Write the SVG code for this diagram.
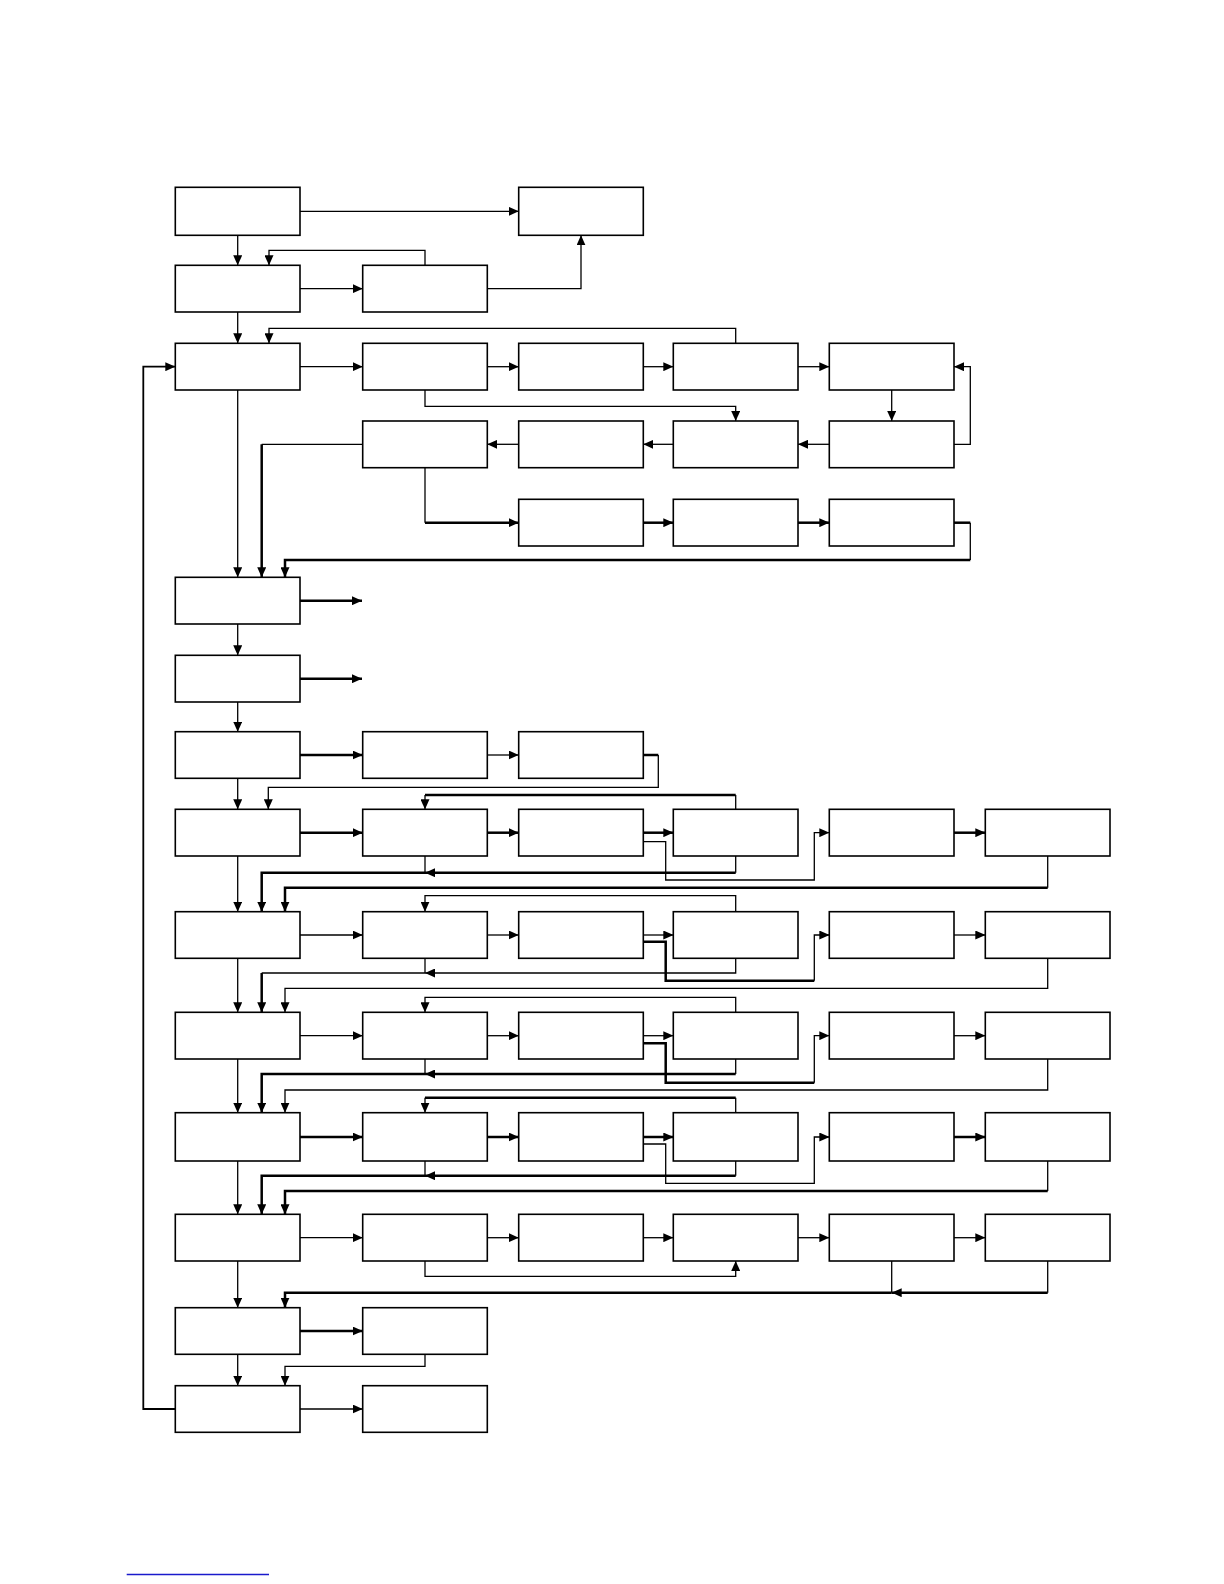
<svg xmlns="http://www.w3.org/2000/svg" width="1224" height="1584" viewBox="0 0 1224 1584">
<style>
.box{fill:#fff;stroke:#000;stroke-width:1.6}
.t{fill:none;stroke:#000;stroke-width:1.3}
.k{fill:none;stroke:#000;stroke-width:2.5}
.m{fill:none;stroke:#000;stroke-width:1.8}
.a{marker-end:url(#ah)}
</style>
<defs>
<marker id="ah" markerUnits="userSpaceOnUse" markerWidth="10" markerHeight="9" viewBox="0 0 10 9" refX="10" refY="4.5" orient="auto"><path d="M0,0 L10,4.5 L0,9 z" fill="#000"/></marker>
</defs>
<rect width="1224" height="1584" fill="#fff"/>
<g id="connectors">
<path class="t a" d="M300,211.3 H518.7"/>
<path class="t a" d="M237.7,235.3 V265.3"/>
<path class="t a" d="M425,265.3 V250.3 H269 V265.3"/>
<path class="t a" d="M300,288.7 H362.7"/>
<path class="t a" d="M487.3,288.7 H581 V235.3"/>
<path class="t a" d="M237.7,312 V343.3"/>
<path class="t a" d="M735.7,343.3 V328.3 H269 V343.3"/>
<path class="t a" d="M300,366.7 H362.7"/>
<path class="t a" d="M487.3,366.7 H518.7"/>
<path class="t a" d="M643.3,366.7 H673.3"/>
<path class="t a" d="M798,366.7 H829.3"/>
<path class="t a" d="M425,390 V406.3 H735.7 V421"/>
<path class="t a" d="M891.7,390 V421"/>
<path class="t a" d="M954,444.3 H970.3 V366.7 H954"/>
<path class="t a" d="M829.3,444.3 H798"/>
<path class="t a" d="M673.3,444.3 H643.3"/>
<path class="t a" d="M518.7,444.3 H487.3"/>
<path class="t" d="M362.7,444.3 H261.7"/>
<path class="k a" d="M261.7,444.3 V577.3"/>
<path class="t" d="M425,467.7 V522.7"/>
<path class="k a" d="M425,522.7 H518.7"/>
<path class="k a" d="M643.3,522.7 H673.3"/>
<path class="k a" d="M798,522.7 H829.3"/>
<path class="k" d="M954,522.7 H970.3"/>
<path class="t" d="M970.3,522.7 V560"/>
<path class="k a" d="M970.3,560 H285 V577.3"/>
<path class="t a" d="M237.7,390 V577.3"/>
<path class="k a" d="M300,600.7 H362"/>
<path class="t a" d="M237.7,624 V655.3"/>
<path class="k a" d="M300,678.7 H362"/>
<path class="t a" d="M237.7,702 V731.7"/>
<path class="k a" d="M300,755 H362.7"/>
<path class="t a" d="M487.3,755 H518.7"/>
<path class="k" d="M643.3,755 H658.3"/>
<path class="t a" d="M658.3,755 V787.3 H268.3 V809.3"/>
<path class="t a" d="M237.7,778.3 V809.3"/>
<!-- row 9 -->
<path class="k a" d="M300,832.7 H362.7"/>
<path class="k a" d="M487.3,832.7 H518.7"/>
<path class="k a" d="M643.3,832.7 H673.3"/>
<path class="t a" d="M643.3,841.7 H665.7 V880 H814.3 V832.7 H829.3"/>
<path class="k a" d="M954,832.7 H985.3"/>
<path class="t" d="M735.7,809.3 V795"/>
<path class="k" d="M735.7,795 H425"/>
<path class="t a" d="M425,795 V809.3"/>
<path class="t" d="M425,856 V872.7"/>
<path class="t" d="M735.7,856 V872.7"/>
<path class="k a" d="M735.7,872.7 H425"/>
<path class="k a" d="M425,872.7 H261.7 V911.7"/>
<path class="t" d="M1047.7,856 V887.7"/>
<path class="k a" d="M1047.7,887.7 H285 V911.7"/>
<path class="t a" d="M237.7,856 V911.7"/>
<!-- row 10 -->
<path class="t a" d="M300,935 H362.7"/>
<path class="t a" d="M487.3,935 H518.7"/>
<path class="t a" d="M643.3,935 H673.3"/>
<path class="k" d="M643.3,941.7 H665.7 V980.7 H814.3"/>
<path class="t a" d="M814.3,980.7 V935 H829.3"/>
<path class="t a" d="M954,935 H985.3"/>
<path class="t a" d="M735.7,911.7 V895.7 H425 V911.7"/>
<path class="t" d="M425,958.3 V973"/>
<path class="t a" d="M735.7,958.3 V973 H425"/>
<path class="t" d="M425,973 H261.7"/>
<path class="k a" d="M261.7,973 V1012.3"/>
<path class="t a" d="M1047.7,958.3 V988.3 H285 V1012.3"/>
<path class="t a" d="M237.7,958.3 V1012.3"/>
<!-- row 11 -->
<path class="t a" d="M300,1035.7 H362.7"/>
<path class="t a" d="M487.3,1035.7 H518.7"/>
<path class="t a" d="M643.3,1035.7 H673.3"/>
<path class="k" d="M643.3,1043.3 H665.7 V1082.7 H814.3"/>
<path class="t a" d="M814.3,1082.7 V1035.7 H829.3"/>
<path class="t a" d="M954,1035.7 H985.3"/>
<path class="t a" d="M735.7,1012.3 V997.3 H425 V1012.3"/>
<path class="t" d="M425,1059 V1074"/>
<path class="t" d="M735.7,1059 V1074"/>
<path class="k a" d="M735.7,1074 H425"/>
<path class="k a" d="M425,1074 H261.7 V1112.7"/>
<path class="t a" d="M1047.7,1059 V1090 H285 V1112.7"/>
<path class="t a" d="M237.7,1059 V1112.7"/>
<!-- row 12 -->
<path class="k a" d="M300,1137 H362.7"/>
<path class="k a" d="M487.3,1137 H518.7"/>
<path class="k a" d="M643.3,1137 H673.3"/>
<path class="t a" d="M643.3,1144 H665.7 V1183.3 H814.3 V1137 H829.3"/>
<path class="k a" d="M954,1137 H985.3"/>
<path class="t" d="M735.7,1112.7 V1097.7"/>
<path class="k" d="M735.7,1097.7 H425"/>
<path class="t a" d="M425,1097.7 V1112.7"/>
<path class="t" d="M425,1161 V1175.7"/>
<path class="t" d="M735.7,1161 V1175.7"/>
<path class="k a" d="M735.7,1175.7 H425"/>
<path class="k a" d="M425,1175.7 H261.7 V1214.3"/>
<path class="t" d="M1047.7,1161 V1191"/>
<path class="k a" d="M1047.7,1191 H285 V1214.3"/>
<path class="t a" d="M237.7,1161 V1214.3"/>
<!-- row 13 -->
<path class="t a" d="M300,1237.7 H362.7"/>
<path class="t a" d="M487.3,1237.7 H518.7"/>
<path class="t a" d="M643.3,1237.7 H673.3"/>
<path class="t a" d="M798,1237.7 H829.3"/>
<path class="t a" d="M954,1237.7 H985.3"/>
<path class="t a" d="M425,1261 V1276.3 H735.7 V1261"/>
<path class="t" d="M891.7,1261 V1292.7"/>
<path class="t" d="M1047.7,1261 V1292.7"/>
<path class="k a" d="M1047.7,1292.7 H891.7"/>
<path class="k a" d="M891.7,1292.7 H285 V1307.7"/>
<path class="t a" d="M237.7,1261 V1307.7"/>
<!-- row 14 -->
<path class="k a" d="M300,1331 H362.7"/>
<path class="t a" d="M425,1354.3 V1366.3 H285 V1385.7"/>
<path class="t a" d="M237.7,1354.3 V1385.7"/>
<!-- row 15 -->
<path class="t a" d="M300,1409 H362.7"/>
<path class="m a" d="M175.3,1409 H143.3 V366.7 H175.3"/>
</g>
<g id="nodes">
<g id="n1_1"><rect class="box" x="175.3" y="187.3" width="124.7" height="48"/></g>
<g id="n1_3"><rect class="box" x="518.7" y="187.3" width="124.6" height="48"/></g>
<g id="n2_1"><rect class="box" x="175.3" y="265.3" width="124.7" height="46.7"/></g>
<g id="n2_2"><rect class="box" x="362.7" y="265.3" width="124.6" height="46.7"/></g>
<g id="n3_1"><rect class="box" x="175.3" y="343.3" width="124.7" height="46.7"/></g>
<g id="n3_2"><rect class="box" x="362.7" y="343.3" width="124.6" height="46.7"/></g>
<g id="n3_3"><rect class="box" x="518.7" y="343.3" width="124.6" height="46.7"/></g>
<g id="n3_4"><rect class="box" x="673.3" y="343.3" width="124.7" height="46.7"/></g>
<g id="n3_5"><rect class="box" x="829.3" y="343.3" width="124.7" height="46.7"/></g>
<g id="n4_2"><rect class="box" x="362.7" y="421" width="124.6" height="46.7"/></g>
<g id="n4_3"><rect class="box" x="518.7" y="421" width="124.6" height="46.7"/></g>
<g id="n4_4"><rect class="box" x="673.3" y="421" width="124.7" height="46.7"/></g>
<g id="n4_5"><rect class="box" x="829.3" y="421" width="124.7" height="46.7"/></g>
<g id="n5_3"><rect class="box" x="518.7" y="499.3" width="124.6" height="46.7"/></g>
<g id="n5_4"><rect class="box" x="673.3" y="499.3" width="124.7" height="46.7"/></g>
<g id="n5_5"><rect class="box" x="829.3" y="499.3" width="124.7" height="46.7"/></g>
<g id="n6_1"><rect class="box" x="175.3" y="577.3" width="124.7" height="46.7"/></g>
<g id="n7_1"><rect class="box" x="175.3" y="655.3" width="124.7" height="46.7"/></g>
<g id="n8_1"><rect class="box" x="175.3" y="731.7" width="124.7" height="46.6"/></g>
<g id="n8_2"><rect class="box" x="362.7" y="731.7" width="124.6" height="46.6"/></g>
<g id="n8_3"><rect class="box" x="518.7" y="731.7" width="124.6" height="46.6"/></g>
<g id="n9_1"><rect class="box" x="175.3" y="809.3" width="124.7" height="46.7"/></g>
<g id="n9_2"><rect class="box" x="362.7" y="809.3" width="124.6" height="46.7"/></g>
<g id="n9_3"><rect class="box" x="518.7" y="809.3" width="124.6" height="46.7"/></g>
<g id="n9_4"><rect class="box" x="673.3" y="809.3" width="124.7" height="46.7"/></g>
<g id="n9_5"><rect class="box" x="829.3" y="809.3" width="124.7" height="46.7"/></g>
<g id="n9_6"><rect class="box" x="985.3" y="809.3" width="124.7" height="46.7"/></g>
<g id="n10_1"><rect class="box" x="175.3" y="911.7" width="124.7" height="46.6"/></g>
<g id="n10_2"><rect class="box" x="362.7" y="911.7" width="124.6" height="46.6"/></g>
<g id="n10_3"><rect class="box" x="518.7" y="911.7" width="124.6" height="46.6"/></g>
<g id="n10_4"><rect class="box" x="673.3" y="911.7" width="124.7" height="46.6"/></g>
<g id="n10_5"><rect class="box" x="829.3" y="911.7" width="124.7" height="46.6"/></g>
<g id="n10_6"><rect class="box" x="985.3" y="911.7" width="124.7" height="46.6"/></g>
<g id="n11_1"><rect class="box" x="175.3" y="1012.3" width="124.7" height="46.7"/></g>
<g id="n11_2"><rect class="box" x="362.7" y="1012.3" width="124.6" height="46.7"/></g>
<g id="n11_3"><rect class="box" x="518.7" y="1012.3" width="124.6" height="46.7"/></g>
<g id="n11_4"><rect class="box" x="673.3" y="1012.3" width="124.7" height="46.7"/></g>
<g id="n11_5"><rect class="box" x="829.3" y="1012.3" width="124.7" height="46.7"/></g>
<g id="n11_6"><rect class="box" x="985.3" y="1012.3" width="124.7" height="46.7"/></g>
<g id="n12_1"><rect class="box" x="175.3" y="1112.7" width="124.7" height="48.3"/></g>
<g id="n12_2"><rect class="box" x="362.7" y="1112.7" width="124.6" height="48.3"/></g>
<g id="n12_3"><rect class="box" x="518.7" y="1112.7" width="124.6" height="48.3"/></g>
<g id="n12_4"><rect class="box" x="673.3" y="1112.7" width="124.7" height="48.3"/></g>
<g id="n12_5"><rect class="box" x="829.3" y="1112.7" width="124.7" height="48.3"/></g>
<g id="n12_6"><rect class="box" x="985.3" y="1112.7" width="124.7" height="48.3"/></g>
<g id="n13_1"><rect class="box" x="175.3" y="1214.3" width="124.7" height="46.7"/></g>
<g id="n13_2"><rect class="box" x="362.7" y="1214.3" width="124.6" height="46.7"/></g>
<g id="n13_3"><rect class="box" x="518.7" y="1214.3" width="124.6" height="46.7"/></g>
<g id="n13_4"><rect class="box" x="673.3" y="1214.3" width="124.7" height="46.7"/></g>
<g id="n13_5"><rect class="box" x="829.3" y="1214.3" width="124.7" height="46.7"/></g>
<g id="n13_6"><rect class="box" x="985.3" y="1214.3" width="124.7" height="46.7"/></g>
<g id="n14_1"><rect class="box" x="175.3" y="1307.7" width="124.7" height="46.6"/></g>
<g id="n14_2"><rect class="box" x="362.7" y="1307.7" width="124.6" height="46.6"/></g>
<g id="n15_1"><rect class="box" x="175.3" y="1385.7" width="124.7" height="46.6"/></g>
<g id="n15_2"><rect class="box" x="362.7" y="1385.7" width="124.6" height="46.6"/></g>
</g>
<line x1="126.7" y1="1574.5" x2="269" y2="1574.5" stroke="#1a1acc" stroke-width="1.3"/>
</svg>
